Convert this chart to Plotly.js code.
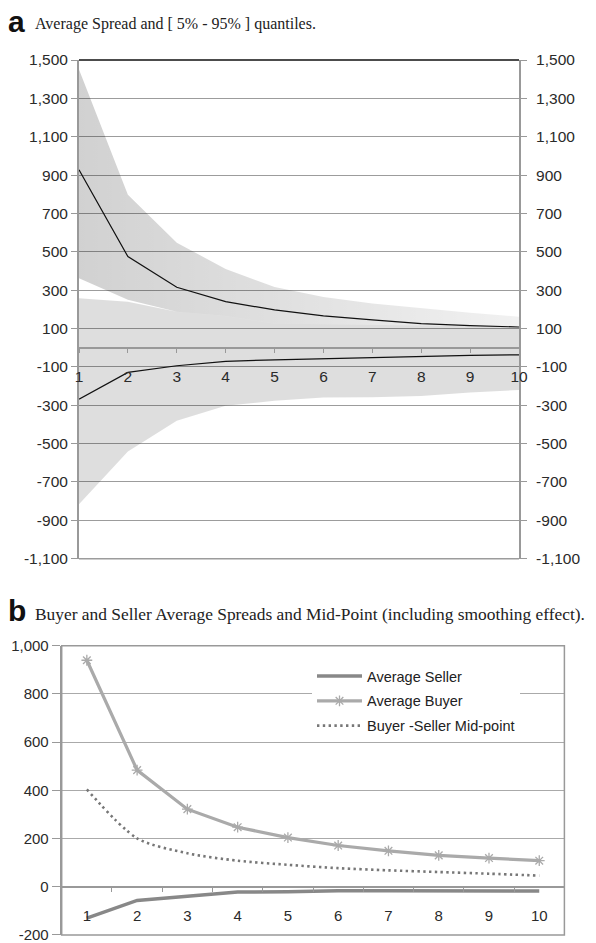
<!DOCTYPE html>
<html>
<head>
<meta charset="utf-8">
<script src="https://cdn.plot.ly/plotly-3.0.1.min.js"></script>
<style>
  html, body { margin: 0; padding: 0; background: #fff; }
  #chart { width: 596px; height: 943px; }
</style>
</head>
<body>
<div id="chart"></div>
<script>
// Horizon steps (shared by both panels)
const steps = [1, 2, 3, 4, 5, 6, 7, 8, 9, 10];
const stepLabels = ["1", "2", "3", "4", "5", "6", "7", "8", "9", "10"];

// Panel a: average spreads with 5%-95% quantile bands
const buyerAvg  = [928, 475, 315, 240, 197, 166, 145, 126, 115, 108];
const buyerP95  = [1450, 797, 547, 411, 316, 264, 230, 205, 182, 162];
const buyerP5   = [362, 250, 188, 165, 126, 124, 120, 116, 112, 108];
const sellerAvg = [-268, -129, -94, -71, -63, -57, -50, -44, -40, -37];
const sellerP95 = [258, 240, 188, 165, 126, 124, 120, 116, 112, 108];
const sellerP5  = [-816, -541, -381, -303, -277, -260, -258, -252, -233, -221];

const aTickVals = [-1100, -900, -700, -500, -300, -100, 100, 300, 500, 700, 900, 1100, 1300, 1500];
const aTickText = ["-1,100", "-900", "-700", "-500", "-300", "-100", "100", "300", "500", "700", "900", "1,100", "1,300", "1,500"];

// Panel b: buyer / seller averages and their mid-point
const seriesNames = ["Average Seller", "Average Buyer", "Buyer -Seller Mid-point"];
const sellerB = [-130, -57, -40, -22, -21, -17, -17, -17, -17, -18];
const buyerB  = [940, 484, 322, 247, 204, 171, 149, 130, 119, 108];
const midB    = [404, 201, 139, 108, 91, 77, 68, 61, 54, 46];

const bTickVals = [-200, 0, 200, 400, 600, 800, 1000];
const bTickText = ["-200", "0", "200", "400", "600", "800", "1,000"];

const W = 596, H = 943;
const px = v => v / W;
const py = v => 1 - v / H;

const tickFont = { family: "Liberation Sans, Arial, sans-serif", size: 15.5, color: "#2a2a2a" };
const tickFontB = { family: "Liberation Sans, Arial, sans-serif", size: 15, color: "#2a2a2a" };

const traces = [
  // seller band
  { x: steps, y: sellerP5, xaxis: "x", yaxis: "y", mode: "lines", line: { width: 0 },
    hoverinfo: "skip", showlegend: false },
  { x: steps, y: sellerP95, xaxis: "x", yaxis: "y", mode: "lines", line: { width: 0 },
    fill: "tonexty", fillcolor: "rgba(0,0,0,0.13)", hoverinfo: "skip", showlegend: false },
  // buyer band
  { x: steps, y: buyerP5, xaxis: "x", yaxis: "y", mode: "lines", line: { width: 0 },
    hoverinfo: "skip", showlegend: false },
  { x: steps, y: buyerP95, xaxis: "x", yaxis: "y", mode: "lines", line: { width: 0 },
    fill: "tonexty",
    fillgradient: { type: "horizontal", colorscale: [[0, "rgba(0,0,0,0.18)"], [1, "rgba(0,0,0,0.055)"]] },
    hoverinfo: "skip", showlegend: false },
  // average lines
  { x: steps, y: sellerAvg, xaxis: "x", yaxis: "y", mode: "lines",
    line: { color: "#111", width: 1.2 }, showlegend: false },
  { x: steps, y: buyerAvg, xaxis: "x", yaxis: "y2", mode: "lines",
    line: { color: "#111", width: 1.2 }, showlegend: false },

  // panel b
  { x: stepLabels, y: sellerB, xaxis: "x2", yaxis: "y3", mode: "lines", name: seriesNames[0],
    line: { color: "#888", width: 3.5 }, legendgroup: "s" },
  { x: stepLabels, y: buyerB, xaxis: "x2", yaxis: "y3", mode: "lines+markers", name: seriesNames[1],
    line: { color: "#aaa", width: 3.2 },
    marker: { symbol: "asterisk-open", size: 9, color: "#aaa", line: { color: "#aaa", width: 1.3 } },
    legendgroup: "b" },
  { x: stepLabels, y: midB, xaxis: "x2", yaxis: "y3", mode: "lines", name: seriesNames[2],
    line: { color: "#777", width: 2.6, dash: "2.4px,3.4px", shape: "spline", smoothing: 0.8 },
    legendgroup: "m" }
];

const layout = {
  width: W, height: H,
  margin: { l: 0, r: 0, t: 0, b: 0 },
  paper_bgcolor: "#fff", plot_bgcolor: "rgba(0,0,0,0)",
  showlegend: true,
  font: { family: "Liberation Sans, Arial, sans-serif", color: "#222" },

  xaxis: {
    domain: [px(79), px(519)], range: [1, 10], anchor: "free", position: py(347.7),
    tickvals: steps, ticktext: stepLabels,
    showline: true, linecolor: "#999", linewidth: 2,
    ticks: "outside", ticklen: 4, tickcolor: "#999", tickwidth: 1,
    ticklabelstandoff: 11, ticklabeloverflow: "allow",
    showgrid: false, zeroline: false, tickfont: tickFont, fixedrange: true
  },
  yaxis: {
    domain: [py(558.7), py(60)], range: [-1100, 1500], anchor: "x",
    tickvals: aTickVals, ticktext: aTickText,
    showgrid: true, gridcolor: "#9c9c9c", gridwidth: 1,
    showline: true, linecolor: "#999", linewidth: 2,
    ticks: "outside", ticklen: 6, tickcolor: "#999", ticklabeloverflow: "allow",
    zeroline: false, tickfont: tickFont, fixedrange: true
  },
  yaxis2: {
    overlaying: "y", side: "right", anchor: "x", range: [-1100, 1500],
    tickvals: aTickVals, ticktext: aTickText,
    showgrid: false, showline: true, linecolor: "#999", linewidth: 2,
    ticks: "outside", ticklen: 6, tickcolor: "#999",
    ticklabelstandoff: 6, ticklabeloverflow: "allow",
    zeroline: false, tickfont: tickFont, fixedrange: true
  },

  xaxis2: {
    domain: [px(61.7), px(564.4)], type: "category", range: [-0.5, 9.5],
    anchor: "free", position: py(886.7),
    showline: true, linecolor: "#999", linewidth: 2,
    ticks: "outside", tickson: "boundaries", ticklen: 4, tickcolor: "#999",
    ticklabelstandoff: 15, ticklabeloverflow: "allow",
    showgrid: false, zeroline: false, tickfont: tickFontB, fixedrange: true
  },
  yaxis3: {
    domain: [py(934.9), py(645.8)], range: [-200, 1000], anchor: "x2",
    tickvals: bTickVals, ticktext: bTickText,
    showgrid: true, gridcolor: "#aaa", gridwidth: 1,
    showline: true, linecolor: "#999", linewidth: 2,
    ticks: "outside", ticklen: 8, tickcolor: "#999", ticklabeloverflow: "allow",
    zeroline: false, tickfont: tickFontB, fixedrange: true
  },

  legend: {
    x: px(312), y: py(660), xanchor: "left", yanchor: "top",
    bgcolor: "#fff", borderwidth: 0,
    font: { family: "Liberation Sans, Arial, sans-serif", size: 14.5, color: "#222" },
    tracegroupgap: 3, itemwidth: 45
  },

  shapes: [
    // panel a: dark top edge and grey bottom edge
    { type: "line", xref: "x domain", yref: "y domain", x0: 0, x1: 1, y0: 1, y1: 1,
      line: { color: "#111", width: 1.5 } },
    { type: "line", xref: "x domain", yref: "y domain", x0: 0, x1: 1, y0: 0, y1: 0,
      line: { color: "#9c9c9c", width: 1.5 } },
    // panel b: frame
    { type: "rect", xref: "x2 domain", yref: "y3 domain", x0: 0, x1: 1, y0: 0, y1: 1,
      line: { color: "#999", width: 1.5 } }
  ],

  annotations: [
    { xref: "paper", yref: "paper", x: px(6), y: py(21), xanchor: "left", yanchor: "middle",
      text: "<b>a</b>", showarrow: false,
      font: { family: "Liberation Sans, Arial, sans-serif", size: 30, color: "#111" } },
    { xref: "paper", yref: "paper", x: px(33), y: py(24), xanchor: "left", yanchor: "middle",
      text: "Average Spread and [ 5% - 95% ] quantiles.", showarrow: false,
      font: { family: "Liberation Serif, Times New Roman, serif", size: 16, color: "#222" } },
    { xref: "paper", yref: "paper", x: px(6), y: py(610), xanchor: "left", yanchor: "middle",
      text: "<b>b</b>", showarrow: false,
      font: { family: "Liberation Sans, Arial, sans-serif", size: 30, color: "#111" } },
    { xref: "paper", yref: "paper", x: px(33), y: py(614), xanchor: "left", yanchor: "middle",
      text: "Buyer and Seller Average Spreads and Mid-Point (including smoothing effect).", showarrow: false,
      font: { family: "Liberation Serif, Times New Roman, serif", size: 17.4, color: "#222" } }
  ]
};

Plotly.newPlot("chart", traces, layout, { displayModeBar: false, staticPlot: true });
</script>
</body>
</html>
